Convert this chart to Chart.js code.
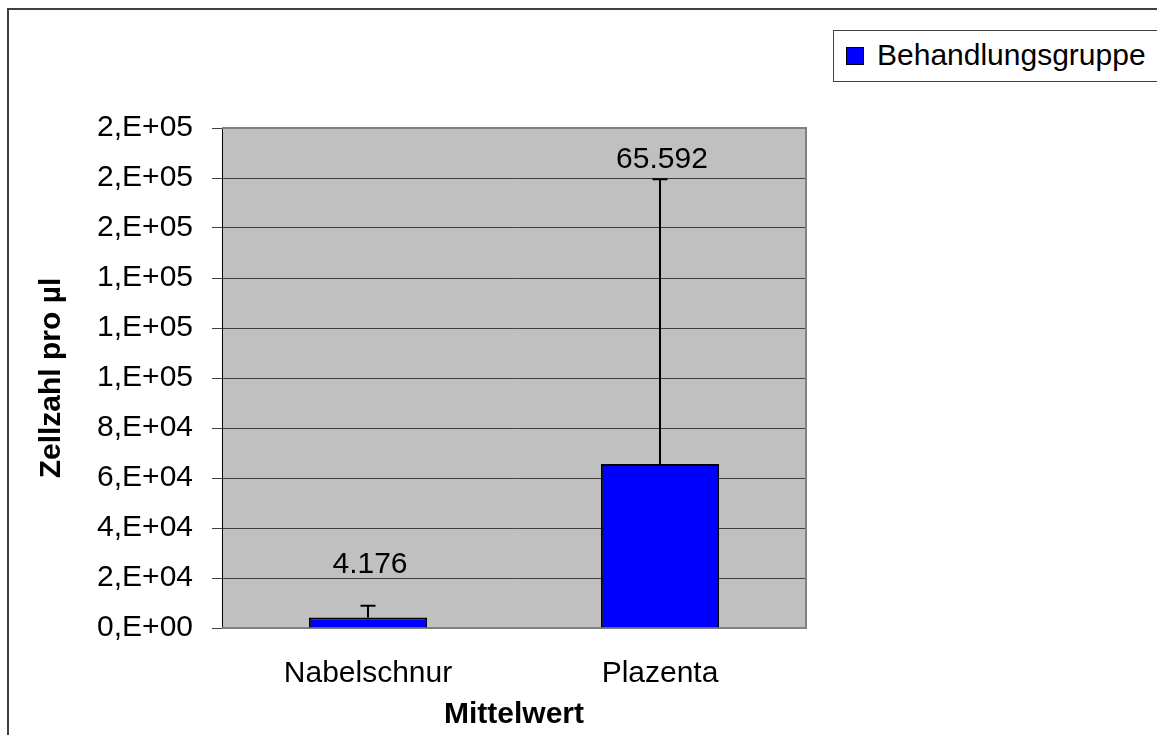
<!DOCTYPE html>
<html>
<head>
<meta charset="utf-8">
<title>Zellzahl pro µl</title>
<script src="https://cdn.jsdelivr.net/npm/chart.js@4.4.0/dist/chart.umd.min.js"></script>
<style>
    html, body { margin: 0; padding: 0; overflow: hidden; background: #fff; }
    #frame {
        position: absolute; left: 7px; top: 8px; width: 1300px; height: 900px;
        border-left: 2px solid #404040; border-top: 2px solid #404040;
    }
    #chart { position: absolute; left: 0; top: 0; }
    #legend {
        position: absolute; left: 833px; top: 30px; width: 340px; height: 50px;
        border: 1px solid #404040; background: #fff;
        font: 30px 'Liberation Sans', Arial, sans-serif; color: #000;
    }
    #legend .swatch {
        position: absolute; left: 12px; top: 16px; width: 16px; height: 16px;
        background: #0000ff; border: 1px solid #000;
    }
    #legend .label { position: absolute; left: 43px; top: 7px; line-height: 34px; }
</style>
</head>
<body>
<div id="frame"></div>
<canvas id="chart" width="1157" height="735"></canvas>
<div id="legend"><span class="swatch"></span><span class="label" id="legendLabel"></span></div>

<script>
// Data
const categories = ['Nabelschnur', 'Plazenta'];
const meanValues = [4176, 65592];
const errorPlus = [4750, 113900];
const yTicks = [0, 20000, 40000, 60000, 80000, 100000, 120000, 140000, 160000, 180000, 200000];
const seriesName = 'Behandlungsgruppe';

// label distance above the error bar cap (px), as placed in the original
const labelOffsets = [33, 11];

Chart.defaults.font.family = "'Liberation Sans', Arial, sans-serif";
Chart.defaults.font.size = 30;
Chart.defaults.color = '#000';

// Excel style "0,E+00" tick format
function excelSci(v) {
    if (v === 0) return '0,E+00';
    let exp = Math.floor(Math.log10(v));
    let mant = Math.round(v / Math.pow(10, exp));
    if (mant === 10) { mant = 1; exp++; }
    return mant + ',E+' + String(exp).padStart(2, '0');
}

// German thousands separator
function formatDe(n) {
    return String(n).replace(/\B(?=(\d{3})+(?!\d))/g, '.');
}

// Grey plot area with border
const plotBackground = {
    id: 'plotBackground',
    beforeDraw(chart) {
        const { ctx, chartArea: a } = chart;
        ctx.save();
        ctx.fillStyle = '#c0c0c0';
        ctx.fillRect(a.left, a.top, a.width, a.height);
        ctx.restore();
    },
    beforeDatasetsDraw(chart) {
        const { ctx, chartArea: a } = chart;
        ctx.save();
        ctx.strokeStyle = '#808080';
        ctx.lineWidth = 2;
        ctx.beginPath();
        ctx.moveTo(a.left, a.top);
        ctx.lineTo(a.right, a.top);
        ctx.lineTo(a.right, a.bottom);
        ctx.lineTo(a.left, a.bottom);
        ctx.stroke();
        ctx.restore();
    }
};

// Plus error bars and value labels
const errorBars = {
    id: 'errorBars',
    afterDatasetsDraw(chart) {
        const { ctx } = chart;
        const yScale = chart.scales.y;
        const meta = chart.getDatasetMeta(0);
        ctx.save();
        meta.data.forEach((bar, i) => {
            const yTop = yScale.getPixelForValue(meanValues[i] + errorPlus[i]);
            ctx.strokeStyle = '#000';
            ctx.lineWidth = 2;
            ctx.beginPath();
            ctx.moveTo(bar.x, bar.y);
            ctx.lineTo(bar.x, yTop);
            ctx.moveTo(bar.x - 7.5, yTop);
            ctx.lineTo(bar.x + 7.5, yTop);
            ctx.stroke();

            ctx.fillStyle = '#000';
            ctx.font = "30px 'Liberation Sans', Arial, sans-serif";
            ctx.textAlign = 'center';
            ctx.textBaseline = 'alphabetic';
            ctx.fillText(formatDe(meanValues[i]), bar.x + 2, yTop - labelOffsets[i]);
        });
        ctx.restore();
    }
};

document.getElementById('legendLabel').textContent = seriesName;

const ctx = document.getElementById('chart').getContext('2d');
new Chart(ctx, {
    type: 'bar',
    data: {
        labels: categories,
        datasets: [{
            label: seriesName,
            data: meanValues,
            backgroundColor: '#0000ff',
            borderColor: '#000',
            borderWidth: 2,
            barPercentage: 0.405,
            categoryPercentage: 1
        }]
    },
    options: {
        responsive: false,
        animation: false,
        devicePixelRatio: 1,
        layout: { padding: { left: 0, right: 351, top: 128, bottom: 0 } },
        plugins: {
            legend: { display: false },
            tooltip: { enabled: false }
        },
        scales: {
            x: {
                grid: { display: false, drawTicks: false },
                border: { display: false },
                ticks: { padding: 28 },
                title: {
                    display: true,
                    text: 'Mittelwert',
                    font: { size: 30, weight: 'bold' },
                    padding: { top: 0, bottom: 2 }
                },
                afterFit(scale) { scale.height = 107; }
            },
            y: {
                min: 0,
                max: 200000,
                afterBuildTicks(scale) {
                    scale.ticks = yTicks.map(v => ({ value: v }));
                },
                ticks: {
                    padding: 19,
                    callback: v => excelSci(v)
                },
                grid: { color: '#404040', lineWidth: 1, tickLength: 10 },
                border: { color: '#000', width: 1 },
                title: {
                    display: true,
                    text: 'Zellzahl pro µl',
                    font: { size: 30, weight: 'bold' },
                    padding: { top: 34, bottom: 0 }
                },
                afterFit(scale) { scale.width = 222; }
            }
        }
    },
    plugins: [plotBackground, errorBars]
});
</script>
</body>
</html>
